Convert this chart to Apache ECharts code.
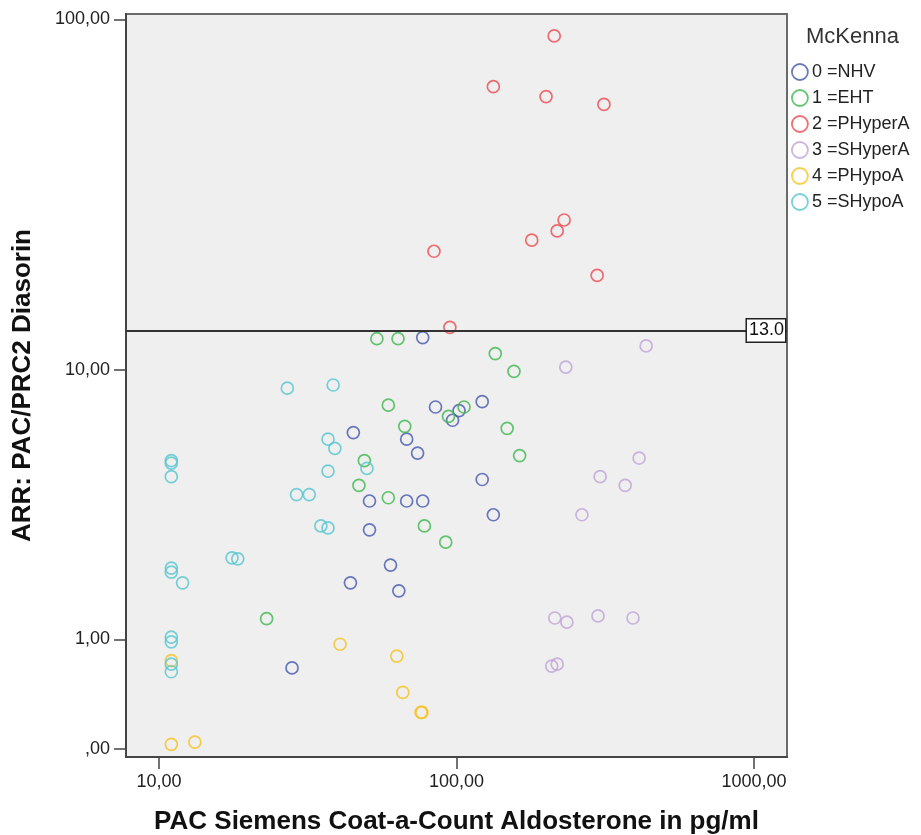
<!DOCTYPE html>
<html>
<head>
<meta charset="utf-8">
<script src="https://cdn.jsdelivr.net/npm/echarts@6/dist/echarts.min.js"></script>
<style>
  html, body { margin: 0; padding: 0; background: #ffffff; }
  #chart { width: 921px; height: 835px; }
</style>
</head>
<body>
<div id="chart"></div>
<script>
// Groups (McKenna classification)
const groupNames = ['0 =NHV', '1 =EHT', '2 =PHyperA', '3 =SHyperA', '4 =PHypoA', '5 =SHypoA'];
const groupColors = ['#4658ad', '#3cb84c', '#ec4a50', '#bfa2d6', '#f7c21e', '#55c6cf'];

// PAC (pg/ml) and ARR per group
const nhvPAC = [77, 85, 122, 102, 97, 45, 68, 74, 122, 51, 68, 77, 133, 51, 60, 44, 64, 28];
const nhvARR = [12.5, 7.7, 8.0, 7.5, 7.0, 6.4, 6.1, 5.5, 4.5, 3.8, 3.8, 3.8, 3.4, 3.0, 2.2, 1.86, 1.72, 0.67];

const ehtPAC = [54, 63.6, 135, 156, 59, 106, 94, 67, 148, 163, 49, 47, 59, 78, 92, 23];
const ehtARR = [12.4, 12.4, 11.2, 9.9, 7.8, 7.7, 7.2, 6.7, 6.6, 5.4, 5.2, 4.3, 3.9, 3.1, 2.7, 1.28];

const phyperPAC = [213, 133, 200, 313, 230, 218, 179, 84, 297, 95];
const phyperARR = [90, 65, 61, 58, 27.4, 25.5, 24, 22.3, 19, 13.4];

const shyperPAC = [434, 233, 411, 304, 369, 264, 214, 235, 299, 392, 209, 218];
const shyperARR = [11.8, 10.2, 5.3, 4.6, 4.3, 3.4, 1.29, 1.23, 1.32, 1.29, 0.69, 0.71];

const phypoPAC = [11, 13.2, 40.6, 63, 66, 76, 76.5, 11];
const phypoARR = [0.03, 0.045, 0.94, 0.80, 0.43, 0.26, 0.26, 0.75];

const shypoPAC = [38.5, 27, 37, 39, 37, 50, 32, 29, 35, 37, 11, 11, 11, 11, 11, 12, 17.6, 18.4, 11, 11, 11, 11];
const shypoARR = [9.0, 8.8, 6.1, 5.7, 4.8, 4.9, 4.0, 4.0, 3.1, 3.05, 5.2, 5.1, 4.6, 2.14, 2.06, 1.86, 2.35, 2.33, 1.03, 0.97, 0.71, 0.63];

// Cut-off for ARR
const arrCutoff = 13.0;

// Tick values and labels
const xTickValues = [10, 100, 1000];
const xTickLabels = ['10,00', '100,00', '1000,00'];
const yTickValues = [0, 1, 10, 100];
const yTickLabels = [',00', '1,00', '10,00', '100,00'];

// X uses a log10 scale, Y uses a log10(1 + v) scale
const fx = v => Math.log10(v);
const fy = v => Math.log10(1 + v);

const groupsPAC = [nhvPAC, ehtPAC, phyperPAC, shyperPAC, phypoPAC, shypoPAC];
const groupsARR = [nhvARR, ehtARR, phyperARR, shyperARR, phypoARR, shypoARR];

function labelFor(values, labels, fn) {
  return function (v) {
    for (let i = 0; i < values.length; i++) {
      if (Math.abs(fn(values[i]) - v) < 1e-6) return labels[i];
    }
    return '';
  };
}

const series = groupNames.map((name, g) => ({
  name: name,
  type: 'scatter',
  symbol: 'circle',
  symbolSize: 12,
  itemStyle: { color: 'rgba(0,0,0,0)', borderColor: groupColors[g], borderWidth: 1.7 },
  emphasis: { disabled: true },
  data: groupsPAC[g].map((p, i) => [fx(p), fy(groupsARR[g][i])]),
  z: 3
}));

series.push({
  name: 'cutoff',
  type: 'scatter',
  data: [],
  z: 5,
  markLine: {
    silent: true,
    symbol: 'none',
    animation: false,
    lineStyle: { color: '#333', width: 2, type: 'solid' },
    label: {
      show: true,
      position: 'end',
      distance: -2,
      align: 'right',
      formatter: arrCutoff.toFixed(1),
      fontFamily: 'Liberation Sans, Arial, sans-serif',
      fontSize: 18,
      color: '#111',
      backgroundColor: '#ffffff',
      borderColor: '#222',
      borderWidth: 1.5,
      padding: [3, 1, 1, 2]
    },
    data: [{ yAxis: fy(arrCutoff) }]
  }
});

const chart = echarts.init(document.getElementById('chart'), null, { renderer: 'canvas' });

chart.setOption({
  animation: false,
  backgroundColor: '#ffffff',
  textStyle: { fontFamily: 'Liberation Sans, Arial, sans-serif' },
  title: {
    text: 'McKenna',
    left: 806,
    top: 26,
    padding: 0,
    textStyle: { fontSize: 22, fontWeight: 'normal', color: '#333', fontFamily: 'Liberation Sans, Arial, sans-serif' }
  },
  legend: {
    orient: 'vertical',
    left: 791,
    top: 63,
    padding: 0,
    itemWidth: 16,
    itemHeight: 16,
    itemGap: 8,
    selectedMode: false,
    textStyle: { fontSize: 18, color: '#222', padding: [0, 0, 0, -1] },
    data: groupNames.map((n, g) => ({
      name: n,
      icon: 'circle',
      itemStyle: { color: 'rgba(0,0,0,0)', borderColor: groupColors[g], borderWidth: 1.8 }
    }))
  },
  grid: {
    left: 126,
    top: 14,
    width: 661,
    height: 743,
    show: true,
    backgroundColor: '#efefef',
    borderColor: '#6a6a6a',
    borderWidth: 2,
    outerBoundsMode: 'none'
  },
  xAxis: {
    type: 'value',
    min: 0.8891,
    max: 3.1109,
    name: 'PAC Siemens Coat-a-Count Aldosterone in pg/ml',
    nameLocation: 'middle',
    nameGap: 52,
    nameMoveOverlap: false,
    nameTextStyle: { fontSize: 26, fontWeight: 'bold', color: '#111', fontFamily: 'Liberation Sans, Arial, sans-serif' },
    axisLine: { show: true, onZero: false, lineStyle: { color: '#444', width: 2 } },
    axisTick: { show: true, length: 12, lineStyle: { color: '#444', width: 1.5 }, customValues: xTickValues.map(fx) },
    axisLabel: {
      show: true, margin: 16, fontSize: 18, color: '#222',
      customValues: xTickValues.map(fx),
      formatter: labelFor(xTickValues, xTickLabels, fx)
    },
    splitLine: { show: false }
  },
  yAxis: {
    type: 'value',
    min: -0.022,
    max: 2.0192,
    name: 'ARR: PAC/PRC2 Diasorin',
    nameLocation: 'middle',
    nameGap: 90,
    nameRotate: 90,
    nameMoveOverlap: false,
    nameTextStyle: { fontSize: 26, fontWeight: 'bold', color: '#111', fontFamily: 'Liberation Sans, Arial, sans-serif' },
    axisLine: { show: true, onZero: false, lineStyle: { color: '#444', width: 2 } },
    axisTick: { show: true, length: 12, lineStyle: { color: '#444', width: 1.5 }, customValues: yTickValues.map(fy) },
    axisLabel: {
      show: true, margin: 16, fontSize: 18, color: '#222',
      customValues: yTickValues.map(fy),
      formatter: labelFor(yTickValues, yTickLabels, fy)
    },
    splitLine: { show: false }
  },
  series: series
});
</script>
</body>
</html>
